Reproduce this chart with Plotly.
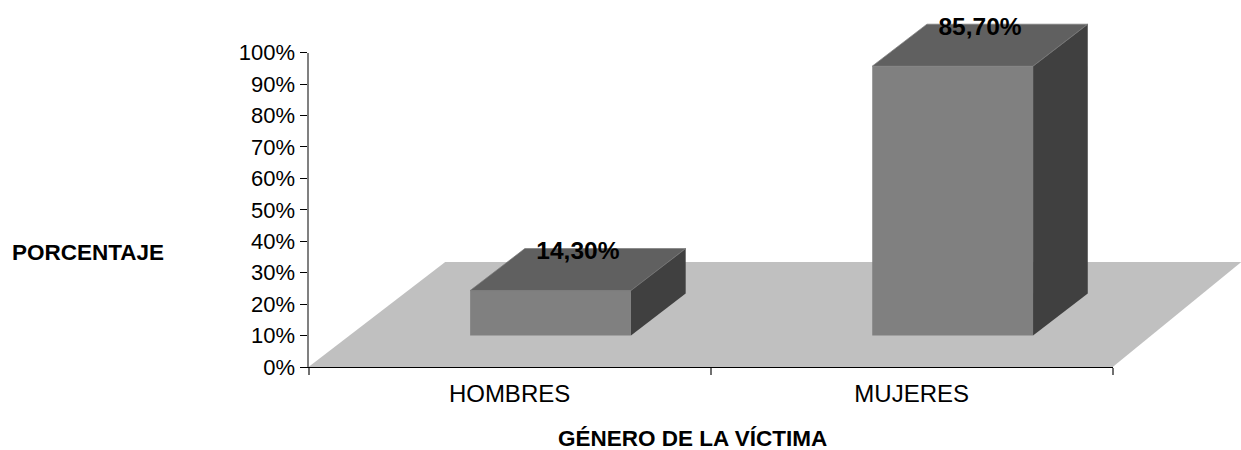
import plotly.graph_objects as go

CATEGORIES = ["HOMBRES", "MUJERES"]
VALUES = [14.3, 85.7]
VALUE_LABELS = ["14,30%", "85,70%"]
Y_TICKS = list(range(0, 101, 10))
Y_TICK_LABELS = [f"{v}%" for v in Y_TICKS]
X_TITLE = "GÉNERO DE LA VÍCTIMA"
Y_TITLE = "PORCENTAJE"

# Oblique projection of the 3-D look, in axis units
DEPTH_X = 0.34
DEPTH_Y = 33.4
BAR_GAP = 0.3
BAR_SLOTS = [0, 1]
FLOOR_RIGHT_BACK = 2.32
LABEL_LIFT = 1.4

FRONT, TOP, SIDE, FLOOR, EDGE = "#808080", "#606060", "#404040", "#C0C0C0", "#7A7A7A"
FONT = "Liberation Sans, Arial, sans-serif"

W, H = 1241, 450
L, R, T, B = 308.5, 1112.7, 52.7, 367.0  # plot-area frame in the page
PX_PER_CAT = (R - L) / 2
PX_PER_PCT = (B - T) / 100


def proj(x, v, d):
    return x + d * DEPTH_X, v + d * DEPTH_Y


def poly(points, color, edge=None):
    xs, ys = zip(*points)
    line = dict(width=0.7, color=edge) if edge else dict(width=0, color=color)
    return go.Scatter(x=list(xs) + [xs[0]], y=list(ys) + [ys[0]], mode="lines", fill="toself",
                      fillcolor=color, line=line, hoverinfo="skip",
                      showlegend=False, xaxis="x", yaxis="y")


fig = go.Figure()
fig.add_trace(poly([(0, 0), (2, 0), (FLOOR_RIGHT_BACK, DEPTH_Y), (DEPTH_X, DEPTH_Y)], FLOOR))

d0, d1 = BAR_GAP, 1 - BAR_GAP
for slot, val in zip(BAR_SLOTS, VALUES):
    x0, x1 = slot + BAR_GAP, slot + 1 - BAR_GAP
    fig.add_trace(poly([proj(x0, 0, d0), proj(x1, 0, d0), proj(x1, val, d0), proj(x0, val, d0)], FRONT))
    fig.add_trace(poly([proj(x0, val, d0), proj(x1, val, d0), proj(x1, val, d1), proj(x0, val, d1)], TOP, EDGE))
    fig.add_trace(poly([proj(x1, 0, d0), proj(x1, 0, d1), proj(x1, val, d1), proj(x1, val, d0)], SIDE))
    fig.add_trace(go.Scatter(x=[proj(x1, val, d0)[0], proj(x1, val, d1)[0]],
                             y=[proj(x1, val, d0)[1], proj(x1, val, d1)[1]], mode="lines",
                             line=dict(width=0.7, color=EDGE), hoverinfo="skip", showlegend=False))

lx, ly = zip(*[proj(s + 0.5, v + LABEL_LIFT, 0.5) for s, v in zip(BAR_SLOTS, VALUES)])
fig.add_trace(go.Scatter(x=list(lx), y=list(ly), mode="text", text=VALUE_LABELS,
                         textposition="top center", showlegend=False, hoverinfo="skip",
                         textfont=dict(family=FONT, size=24.5, color="#000000", weight="bold")))
# The visible axes live on x2/y2; this empty trace keeps that subplot alive.
fig.add_trace(go.Scatter(x=[0], y=[0], mode="none", xaxis="x2", yaxis="y2", showlegend=False, hoverinfo="skip"))

fig.update_layout(
    width=W, height=H, autosize=False,
    margin=dict(l=0, r=0, t=0, b=0, pad=0),
    paper_bgcolor="white", plot_bgcolor="rgba(0,0,0,0)",
    font=dict(family=FONT, color="#000000"),
    showlegend=False,
    # full-page axes at the same scale, so the 3-D faces may leave the frame
    xaxis=dict(domain=[0, 1], range=[-L / PX_PER_CAT, (W - L) / PX_PER_CAT], visible=False, fixedrange=True,
               automargin=False),
    yaxis=dict(domain=[0, 1], range=[-(H - B) / PX_PER_PCT, B / PX_PER_PCT], visible=False, fixedrange=True,
               automargin=False),
    xaxis2=dict(domain=[L / W, R / W], anchor="y2", range=[0, 2], tickmode="array",
                tickvals=[s + 0.5 for s in BAR_SLOTS], ticktext=CATEGORIES,
                ticks="outside", ticklen=5, tickcolor="rgba(0,0,0,0)",
                minor=dict(tickmode="array", tickvals=[0, 1, 2], ticks="outside", ticklen=7,
                           tickcolor="#707070", tickwidth=1.5, showgrid=False),
                showline=True, linecolor="#000000", linewidth=1, showgrid=False, zeroline=False,
                automargin=False, fixedrange=True,
                tickfont=dict(family=FONT, size=24)),
    yaxis2=dict(domain=[(H - B) / H, (H - T) / H], anchor="x2", range=[0, 100], tickmode="array",
                tickvals=Y_TICKS, ticktext=Y_TICK_LABELS,
                ticks="outside", ticklen=7, tickcolor="#000000", tickwidth=1,
                showline=True, linecolor="#808080", linewidth=2, showgrid=False, zeroline=False,
                automargin=False, fixedrange=True,
                tickfont=dict(family=FONT, size=22)),
    annotations=[
        dict(text=f"<b>{Y_TITLE}</b>", xref="paper", yref="paper", x=88 / W, y=1 - 252 / H, showarrow=False,
             xanchor="center", yanchor="middle", font=dict(family=FONT, size=22.5)),
        dict(text=f"<b>{X_TITLE}</b>", xref="paper", yref="paper", x=692.5 / W, y=1 - 438 / H, showarrow=False,
             xanchor="center", yanchor="middle", font=dict(family=FONT, size=22.5)),
    ],
)
fig.write_html("out.html", config=dict(displayModeBar=False), post_script="document.body.style.margin='0';")
